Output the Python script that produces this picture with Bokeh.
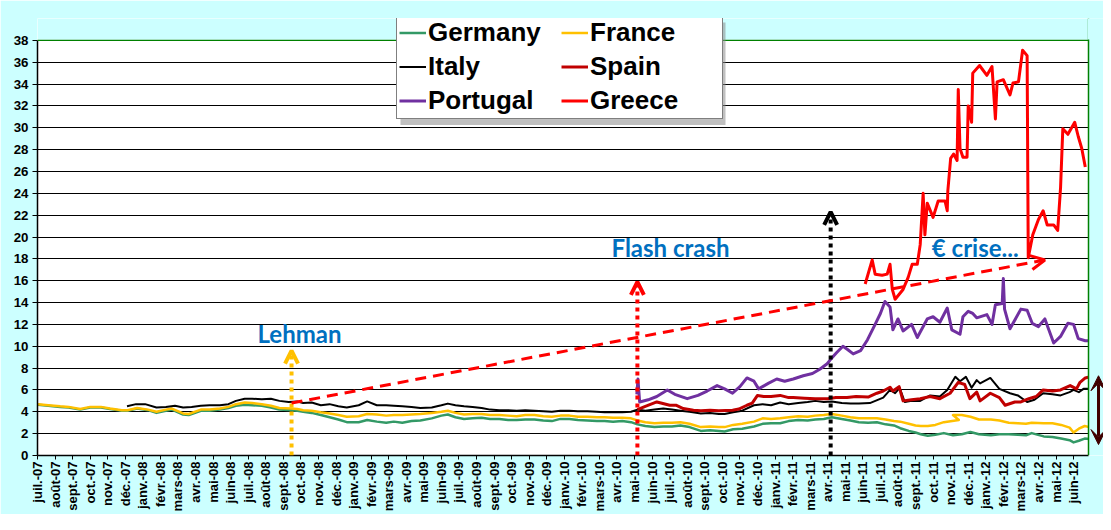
import calendar
import math
from bokeh.plotting import figure
from bokeh.models import (FixedTicker, Range1d, Legend, LegendItem, Arrow,
                          OpenHead, VeeHead, Label, ColumnDataSource, BoxAnnotation, Span)
from bokeh.embed import file_html
from bokeh.resources import INLINE

# ---------------- data ----------------
MONTHS_FR = ["janv.", "févr.", "mars", "avr.", "mai", "juin",
             "juil.", "août", "sept.", "oct.", "nov.", "déc."]
N_MONTHS = 60  # juil.-07 .. juin-12

de_dates = ["2007-07-02","2007-07-20","2007-08-10","2007-08-25","2007-09-14","2007-10-01","2007-10-20","2007-11-05","2007-11-25","2007-12-05","2007-12-22",
            "2008-01-10","2008-01-25","2008-02-10","2008-02-20","2008-03-10","2008-03-20","2008-04-10","2008-04-25","2008-05-13","2008-05-28","2008-06-10","2008-06-25",
            "2008-07-08","2008-07-25","2008-08-10","2008-08-25","2008-09-15","2008-09-25","2008-10-05","2008-10-20","2008-11-05","2008-11-20","2008-12-05","2008-12-20",
            "2009-01-10","2009-01-25","2009-02-10","2009-02-25","2009-03-10","2009-03-25","2009-04-10","2009-04-25","2009-05-15","2009-06-01","2009-06-12","2009-06-25",
            "2009-07-10","2009-07-25","2009-08-10","2009-08-25","2009-09-10","2009-09-25","2009-10-10","2009-10-25","2009-11-10","2009-11-25","2009-12-10","2009-12-25",
            "2010-01-10","2010-01-25","2010-02-10","2010-02-25","2010-03-10","2010-03-25","2010-04-10","2010-04-25","2010-05-06","2010-05-20","2010-06-05","2010-06-20",
            "2010-07-05","2010-07-20","2010-08-05","2010-08-25","2010-09-10","2010-09-25","2010-10-05","2010-10-20","2010-11-05","2010-11-25","2010-12-10","2010-12-25",
            "2011-01-10","2011-01-25","2011-02-10","2011-02-25","2011-03-10","2011-03-25","2011-04-08","2011-04-25","2011-05-10","2011-05-25","2011-06-10","2011-06-25",
            "2011-07-10","2011-07-25","2011-08-05","2011-08-20","2011-09-01","2011-09-10","2011-09-22","2011-10-05","2011-10-20","2011-11-05","2011-11-20","2011-12-05","2011-12-20",
            "2012-01-10","2012-01-25","2012-02-10","2012-02-25","2012-03-10","2012-03-20","2012-04-10","2012-04-25","2012-05-10","2012-05-25","2012-06-01","2012-06-10","2012-06-20","2012-06-28"]
de_vals = [4.65,4.55,4.45,4.40,4.20,4.40,4.40,4.25,4.10,4.10,4.30,
           4.15,3.90,4.10,4.20,3.75,3.70,4.10,4.10,4.20,4.35,4.55,4.65,
           4.60,4.55,4.40,4.20,4.15,4.10,4.00,3.90,3.70,3.50,3.30,3.05,
           3.05,3.25,3.10,3.00,3.10,3.00,3.15,3.20,3.40,3.65,3.75,3.50,
           3.35,3.40,3.45,3.35,3.35,3.25,3.25,3.30,3.30,3.20,3.15,3.35,
           3.35,3.25,3.20,3.15,3.15,3.10,3.15,3.05,2.85,2.70,2.60,2.65,
           2.65,2.75,2.60,2.25,2.30,2.25,2.20,2.40,2.45,2.65,2.90,2.95,
           2.95,3.15,3.25,3.20,3.30,3.35,3.50,3.35,3.20,3.05,3.00,3.05,
           2.85,2.75,2.50,2.25,2.10,1.95,1.80,1.90,2.05,1.85,1.95,2.15,1.95,
           1.85,1.95,1.95,1.90,1.85,2.05,1.75,1.70,1.55,1.40,1.20,1.35,1.55,1.50]

fr_dates = de_dates[:104] + ["2011-11-15"] + de_dates[104:]
fr_vals = [4.70,4.60,4.50,4.45,4.25,4.45,4.45,4.30,4.15,4.15,4.35,
           4.20,4.00,4.20,4.30,3.85,3.80,4.20,4.20,4.30,4.45,4.70,4.85,
           4.80,4.70,4.55,4.35,4.30,4.25,4.15,4.10,3.95,3.85,3.70,3.55,
           3.60,3.80,3.75,3.65,3.70,3.70,3.75,3.80,3.90,4.00,4.10,3.90,
           3.75,3.80,3.80,3.70,3.70,3.65,3.60,3.70,3.70,3.60,3.55,3.65,
           3.65,3.55,3.55,3.50,3.50,3.45,3.45,3.40,3.20,3.05,2.95,3.00,
           3.00,3.05,2.90,2.60,2.65,2.60,2.60,2.80,2.90,3.10,3.40,3.35,
           3.40,3.50,3.60,3.55,3.65,3.70,3.80,3.65,3.50,3.40,3.40,3.40,
           3.30,3.15,3.10,2.90,2.75,2.70,2.70,2.80,3.05,3.25,3.70,3.70,3.55,3.30,
           3.30,3.20,3.00,2.95,2.90,3.00,2.95,2.95,2.80,2.55,2.10,2.45,2.70,2.60]

it_dates = ["2007-12-04","2007-12-20","2008-01-05","2008-01-25","2008-02-10","2008-02-25","2008-03-10","2008-03-25","2008-04-10","2008-04-25","2008-05-13","2008-05-28",
            "2008-06-10","2008-06-25","2008-07-08","2008-07-25","2008-08-10","2008-08-25","2008-09-10","2008-09-25","2008-10-05","2008-10-20","2008-11-05","2008-11-20",
            "2008-12-05","2008-12-20","2009-01-10","2009-01-25","2009-02-10","2009-02-25","2009-03-10","2009-03-25","2009-04-10","2009-04-25","2009-05-15","2009-06-01",
            "2009-06-12","2009-06-25","2009-07-10","2009-07-25","2009-08-10","2009-08-25","2009-09-10","2009-09-25","2009-10-10","2009-10-25","2009-11-10","2009-11-25",
            "2009-12-10","2009-12-25","2010-01-10","2010-01-25","2010-02-10","2010-02-25","2010-03-10","2010-03-25","2010-04-10","2010-04-25","2010-05-06","2010-05-20",
            "2010-06-05","2010-06-20","2010-07-05","2010-07-20","2010-08-05","2010-08-25","2010-09-10","2010-09-25","2010-10-05","2010-10-20","2010-11-05","2010-11-25",
            "2010-12-10","2010-12-25","2011-01-10","2011-01-25","2011-02-10","2011-02-25","2011-03-10","2011-03-25","2011-04-08","2011-04-25","2011-05-10","2011-05-25",
            "2011-06-13","2011-07-06","2011-07-18","2011-07-27","2011-08-04","2011-08-13","2011-08-25","2011-09-09","2011-09-26","2011-10-13","2011-10-26","2011-11-09",
            "2011-11-17","2011-11-27","2011-12-07","2011-12-16","2011-12-22","2012-01-09","2012-01-25","2012-02-12","2012-02-25","2012-03-12","2012-03-25","2012-04-09",
            "2012-04-25","2012-05-09","2012-05-25","2012-06-01","2012-06-10","2012-06-18","2012-06-28"]
it_vals = [4.50,4.70,4.70,4.40,4.45,4.55,4.40,4.45,4.55,4.60,4.60,4.70,
           5.00,5.20,5.20,5.15,5.20,5.00,4.90,4.95,4.80,4.85,4.60,4.70,
           4.50,4.40,4.60,4.95,4.60,4.60,4.55,4.50,4.45,4.35,4.40,4.60,
           4.75,4.60,4.50,4.45,4.35,4.20,4.15,4.15,4.10,4.15,4.10,4.05,
           4.00,4.10,4.10,4.05,4.05,4.00,3.95,3.95,3.95,4.00,4.20,4.10,
           4.20,4.30,4.20,4.10,4.00,3.85,3.90,3.80,3.80,3.95,4.10,4.60,
           4.70,4.60,4.85,4.70,4.80,4.90,5.00,4.90,4.95,4.80,4.75,4.75,
           4.80,5.30,6.00,5.70,6.20,4.90,5.00,5.00,5.50,5.40,6.00,7.20,
           6.80,7.20,6.20,6.90,6.60,7.10,6.10,5.70,5.50,4.90,5.10,5.70,
           5.60,5.50,5.80,6.00,5.80,6.10,6.10]

es_dates = ["2010-05-06","2010-05-20","2010-06-09","2010-06-16","2010-07-01","2010-07-12","2010-07-25","2010-08-12","2010-08-25","2010-09-10","2010-09-25",
            "2010-10-19","2010-10-30","2010-11-13","2010-11-22","2010-12-01","2010-12-12","2010-12-25","2011-01-10","2011-01-25","2011-02-02","2011-02-20",
            "2011-03-10","2011-04-01","2011-04-15","2011-05-04","2011-05-20","2011-06-10","2011-06-25","2011-07-06","2011-07-18","2011-07-23","2011-08-03",
            "2011-08-10","2011-08-25","2011-09-09","2011-09-26","2011-10-13","2011-10-31","2011-11-14","2011-11-25","2011-12-04","2011-12-16","2011-12-22",
            "2012-01-09","2012-01-25","2012-02-04","2012-02-20","2012-03-01","2012-03-15","2012-03-28","2012-04-09","2012-04-25","2012-05-09","2012-05-26",
            "2012-06-06","2012-06-12","2012-06-21","2012-06-28"]
es_vals = [4.20,4.50,4.90,4.80,4.60,4.60,4.30,4.15,4.10,4.15,4.10,
           4.15,4.25,4.60,4.80,5.50,5.40,5.40,5.50,5.30,5.30,5.25,
           5.20,5.20,5.30,5.30,5.40,5.35,5.70,5.90,6.25,5.90,6.30,
           5.00,5.10,5.20,5.40,5.20,5.70,6.70,6.50,5.20,5.80,5.00,
           5.70,5.30,4.60,4.90,4.90,5.20,5.40,6.00,5.90,6.00,6.40,
           6.10,6.70,7.10,7.20]

pt_dates = ["2010-05-05","2010-05-07","2010-05-10","2010-05-25","2010-06-09","2010-06-27","2010-07-10","2010-08-01","2010-08-20","2010-09-05","2010-09-22",
            "2010-10-05","2010-10-19","2010-11-01","2010-11-13","2010-11-25","2010-12-03","2010-12-20","2011-01-04","2011-01-18","2011-02-02","2011-02-18",
            "2011-03-05","2011-03-18","2011-03-31","2011-04-06","2011-04-16","2011-04-27","2011-05-05","2011-05-15","2011-05-28","2011-06-09","2011-06-22",
            "2011-07-01","2011-07-09","2011-07-18","2011-07-23","2011-08-01","2011-08-10","2011-08-25","2011-09-04","2011-09-21","2011-10-01","2011-10-13",
            "2011-10-26","2011-11-03","2011-11-17","2011-11-22","2011-12-01","2011-12-09","2011-12-16","2012-01-03","2012-01-12","2012-01-18","2012-01-30",
            "2012-02-01","2012-02-03","2012-02-12","2012-03-01","2012-03-12","2012-03-21","2012-04-01","2012-04-12","2012-04-27","2012-05-09","2012-05-22",
            "2012-06-01","2012-06-09","2012-06-21","2012-06-28"]
pt_vals = [5.60,7.00,4.90,5.10,5.40,6.00,5.60,5.20,5.50,5.90,6.40,
           6.10,5.70,6.30,7.10,6.80,6.10,6.60,7.00,6.80,7.00,7.30,
           7.50,7.90,8.40,8.80,9.40,10.00,9.70,9.30,9.60,10.60,12.00,
           13.00,14.10,13.60,11.50,12.50,11.40,12.00,10.80,12.50,12.70,12.20,
           13.50,11.50,11.10,12.70,13.20,13.00,12.60,12.90,12.00,13.80,13.90,
           16.20,13.40,11.60,13.40,13.30,12.10,11.80,12.50,10.30,10.90,12.10,
           12.00,10.70,10.50,10.50]

gr_dates = ["2011-06-05","2011-06-17","2011-06-22","2011-07-04","2011-07-13","2011-07-18","2011-07-22","2011-07-27","2011-08-10","2011-08-19","2011-08-26",
            "2011-09-04","2011-09-09","2011-09-14","2011-09-17","2011-09-21","2011-10-01","2011-10-10","2011-10-22","2011-10-26","2011-10-27","2011-11-01",
            "2011-11-06","2011-11-12","2011-11-14","2011-11-17","2011-11-22","2011-11-29","2011-12-01","2011-12-07","2011-12-09","2011-12-21","2012-01-03",
            "2012-01-12","2012-01-18","2012-01-21","2012-02-01","2012-02-12","2012-02-17","2012-02-26","2012-03-04","2012-03-12","2012-03-14","2012-03-22",
            "2012-04-01","2012-04-09","2012-04-16","2012-04-27","2012-05-04","2012-05-09","2012-05-13","2012-05-22","2012-06-03","2012-06-09","2012-06-15",
            "2012-06-21"]
gr_vals = [15.7,17.9,16.6,16.5,16.6,17.5,15.2,14.3,15.2,16.3,17.5,
           17.5,19.3,24.0,20.2,23.1,21.8,23.3,23.3,22.4,24.2,27.2,
           27.6,27.0,33.5,28.1,27.3,27.3,32.0,30.5,35.0,35.7,34.8,
           35.6,30.8,34.2,34.4,33.0,34.1,34.2,37.1,36.6,18.1,20.2,
           21.6,22.4,21.1,21.1,20.6,24.5,29.9,29.4,30.5,29.2,28.1,
           26.4]

series_names = ["Germany", "France", "Italy", "Spain", "Portugal", "Greece"]
series_colors = ["#339966", "#FFC000", "#000000", "#C00000", "#7030A0", "#FF0000"]
series_widths = [2.5, 2.5, 2, 3, 3, 3]
series_data = [(de_dates, de_vals), (fr_dates, fr_vals), (it_dates, it_vals),
               (es_dates, es_vals), (pt_dates, pt_vals), (gr_dates, gr_vals)]

# events: date, arrow top value, colour
events = [("2008-09-15", 9.6, "#FFC000"), ("2010-05-06", 15.9, "#FF0000"),
          ("2011-04-06", 22.3, "#000000")]

Y_MAX = 38
X_END = 59.85                      # right edge of the plot area
PX_PER_MONTH = 1051 / X_END
X_RIGHT = (1103 - 37) / PX_PER_MONTH  # frame extends to the canvas edge


def midx(s):
    y, m, d = (int(v) for v in s.split("-"))
    dim = calendar.monthrange(y, m)[1]
    return (y - 2007) * 12 + (m - 7) + (d - 1) / dim


tick_labels = {}
for k in range(N_MONTHS):
    mm = (6 + k) % 12
    yy = 2007 + (6 + k) // 12
    tick_labels[k] = f"{MONTHS_FR[mm]}-{yy % 100:02d}"

# ---------------- figure ----------------
FONT = "Liberation Sans"
BG = "#CCFFFF"
p = figure(width=1103, height=514, output_backend="svg", toolbar_location=None,
           x_range=Range1d(0, X_RIGHT), y_range=Range1d(0, 40.0),
           min_border_left=37, min_border_right=0, min_border_top=18,
           min_border_bottom=57)
p.border_fill_color = BG
p.background_fill_color = "#FFFFFF"
p.outline_line_color = None

p.xgrid.visible = False
p.ygrid.grid_line_color = "#000000"
p.ygrid.grid_line_width = 1.2
p.ygrid.ticker = FixedTicker(ticks=list(range(2, Y_MAX, 2)))

p.yaxis.ticker = FixedTicker(ticks=list(range(0, Y_MAX + 1, 2)))
p.yaxis.bounds = (0, Y_MAX)
p.yaxis.major_label_text_font = FONT
p.yaxis.major_label_text_font_style = "bold"
p.yaxis.major_label_text_font_size = "13.3px"
p.yaxis.major_label_text_color = "#000000"
p.yaxis.axis_line_width = 1.5
p.yaxis.major_tick_out = 5
p.yaxis.major_tick_in = 0
p.yaxis.minor_tick_line_color = None
p.yaxis.major_label_standoff = 4

p.xaxis.ticker = FixedTicker(ticks=list(range(N_MONTHS)))
p.xaxis.bounds = (0, X_END)
p.xaxis.major_label_overrides = tick_labels
p.xaxis.major_label_orientation = math.pi / 2
p.xaxis.major_label_text_font = FONT
p.xaxis.major_label_text_font_style = "bold"
p.xaxis.major_label_text_font_size = "13px"
p.xaxis.major_label_text_color = "#000000"
p.xaxis.axis_line_width = 1.5
p.xaxis.major_tick_out = 4
p.xaxis.major_tick_in = 0
p.xaxis.minor_tick_line_color = None
p.xaxis.major_label_standoff = 2

# cyan outside the plot area (above 38 and right of the plot area)
p.add_layout(Span(location=Y_MAX, dimension="width", line_color="#008000", line_width=1.5))
p.add_layout(BoxAnnotation(bottom=Y_MAX + 0.07, fill_color=BG, fill_alpha=1.0, line_color=None))
p.add_layout(BoxAnnotation(left=X_END, fill_color=BG, fill_alpha=1.0, line_color=None))
p.add_layout(Span(location=X_END, dimension="height", line_color="#008000", line_width=1.5))
p.add_layout(BoxAnnotation(bottom=Y_MAX + 0.07, left=X_END - 0.05, fill_color=BG,
                           fill_alpha=1.0, line_color=None))

renderers = []
for name, col, lw, (ds, vs) in zip(series_names, series_colors, series_widths, series_data):
    src = ColumnDataSource(dict(x=[midx(d) for d in ds], y=vs))
    r = p.line("x", "y", source=src, line_color=col, line_width=lw, line_join="round")
    renderers.append(r)

# event arrows (dotted)
for d, top, col in events:
    xe = midx(d)
    p.add_layout(Arrow(x_start=xe, y_start=0, x_end=xe, y_end=top,
                       line_color=col, line_width=4, line_dash="4 4",
                       end=OpenHead(size=13, line_color=col, line_width=4)))

# trend arrow
p.add_layout(Arrow(x_start=midx("2008-09-15"), y_start=4.8,
                   x_end=midx("2012-04-12"), y_end=17.9,
                   line_color="#FF0000", line_width=3, line_dash="11 7",
                   end=OpenHead(size=14, line_color="#FF0000", line_width=3)))

# double arrow at the right of the plot area
p.add_layout(Arrow(x_start=60.42, y_start=1.0, x_end=60.42, y_end=7.3,
                   line_color="#400000", line_width=3,
                   start=VeeHead(size=15, fill_color="#400000", line_color="#400000"),
                   end=VeeHead(size=15, fill_color="#400000", line_color="#400000")))

BLUE = "#0070C0"
for txt, xl, yl in [("Lehman", 14.92, 11.2), ("Flash crash", 36.05, 19.0),
                    ("€ crise...", 53.4, 19.0)]:
    p.add_layout(Label(x=xl, y=yl, text=txt, text_font="Lato", text_font_style="bold",
                       text_font_size="24px", text_color=BLUE, text_align="center",
                       text_baseline="middle"))

# legend shadow
p.add_layout(BoxAnnotation(left=20.67, right=39.18, top=39.64, bottom=30.25,
                           fill_color="#8C8C8C", fill_alpha=0.55, line_color=None))

order = [0, 2, 4, 1, 3, 5]  # column-major fill -> rows Germany/France, Italy/Spain, Portugal/Greece
legend = Legend(items=[LegendItem(label=series_names[i], renderers=[renderers[i]]) for i in order],
                ncols=2, location=(359, 336))
legend.label_text_font = FONT
legend.label_text_font_style = "bold"
legend.label_text_font_size = "26px"
legend.label_text_color = "#000000"
legend.label_standoff = 2
legend.glyph_width = 27
legend.glyph_height = 31
legend.label_height = 31
legend.label_width = 130
legend.spacing = 3
legend.padding = 2
legend.margin = 0
legend.border_line_color = "#000000"
legend.border_line_width = 1.5
legend.background_fill_color = "#FFFFFF"
legend.background_fill_alpha = 1.0
p.add_layout(legend)

open("out.html", "w").write(file_html(p, INLINE))
